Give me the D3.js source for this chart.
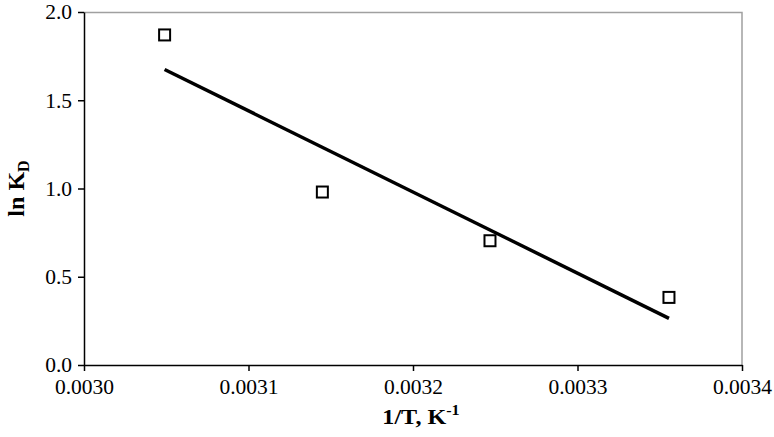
<!DOCTYPE html>
<html>
<head>
<meta charset="utf-8">
<script src="https://cdn.jsdelivr.net/npm/d3@7"></script>
<style>
  body { margin: 0; background: #fff; }
  text { font-family: "Liberation Serif", "Times New Roman", serif; }
</style>
</head>
<body>
<div class="chart"></div>
<script>
// ln KD vs 1/T
let invT = [0.003049, 0.0031449, 0.0032468, 0.0033556];
let lnKD = [1.870, 0.980, 0.704, 0.383];
let xTicks = [0.0030, 0.0031, 0.0032, 0.0033, 0.0034];
let yTicks = [0.0, 0.5, 1.0, 1.5, 2.0];

let svgWidth = 774;
let svgHeight = 437;

let margin = { top: 12, right: 32, bottom: 72, left: 84 };
let width = svgWidth - margin.left - margin.right;
let height = svgHeight - margin.top - margin.bottom;

let svg = d3.select(".chart")
  .append("svg")
  .attr("width", svgWidth)
  .attr("height", svgHeight);

let chartGroup = svg.append("g")
  .attr("transform", `translate(${margin.left}, ${margin.top})`);

let xScale = d3.scaleLinear().domain([0.0030, 0.0034]).range([0, width]);
let yScale = d3.scaleLinear().domain([0, 2]).range([height, 0]);

// gray frame on top and right
chartGroup.append("path")
  .attr("d", `M0,0.5H${width}V${height}`)
  .attr("fill", "none")
  .attr("stroke", "#a0a0a0")
  .attr("stroke-width", 1.5);

let bottomAxis = d3.axisBottom(xScale).tickValues(xTicks)
  .tickFormat(d3.format(".4f")).tickSizeInner(6).tickSizeOuter(0).tickPadding(5);
let leftAxis = d3.axisLeft(yScale).tickValues(yTicks)
  .tickFormat(d3.format(".1f")).tickSizeInner(6).tickSizeOuter(0).tickPadding(6);

let gx = chartGroup.append("g").attr("transform", `translate(0, ${height})`).call(bottomAxis);
let gy = chartGroup.append("g").call(leftAxis);

[gx, gy].forEach(g => {
  g.select(".domain").attr("stroke", "#000").attr("stroke-width", 1.5);
  g.selectAll(".tick line").attr("stroke", "#000").attr("stroke-width", 1.5);
  g.selectAll(".tick text")
    .attr("fill", "#000")
    .style("font-family", "'Liberation Serif', serif")
    .style("font-size", "21.5px");
});
gx.selectAll(".tick text").attr("dy", "0.85em");

// linear trend line (least squares)
let mx = d3.mean(invT), my = d3.mean(lnKD);
let sxy = d3.sum(invT, (x, i) => (x - mx) * (lnKD[i] - my));
let sxx = d3.sum(invT, x => (x - mx) * (x - mx));
let slope = sxy / sxx;
let icpt = my - slope * mx;
let xExt = d3.extent(invT);

chartGroup.append("line")
  .attr("x1", xScale(xExt[0]))
  .attr("y1", yScale(icpt + slope * xExt[0]))
  .attr("x2", xScale(xExt[1]))
  .attr("y2", yScale(icpt + slope * xExt[1]))
  .attr("stroke", "#000")
  .attr("stroke-width", 3.5);

// square markers
chartGroup.selectAll("rect.pt")
  .data(invT)
  .enter()
  .append("rect")
  .attr("class", "pt")
  .attr("x", (d) => xScale(d) - 5.5)
  .attr("y", (d, i) => yScale(lnKD[i]) - 5.5)
  .attr("width", 11)
  .attr("height", 11)
  .attr("fill", "#fff")
  .attr("stroke", "#000")
  .attr("stroke-width", 2);

// axis labels
let yLab = svg.append("text")
  .attr("transform", `translate(24, ${margin.top + height / 2}) rotate(-90)`)
  .attr("text-anchor", "middle")
  .style("font-size", "24px")
  .style("font-weight", "bold");
yLab.append("tspan").text("ln K");
yLab.append("tspan").attr("dy", 5).style("font-size", "16px").text("D");

let xLab = svg.append("text")
  .attr("transform", `translate(${margin.left + width / 2 + 8}, 424) scale(1.15, 1)`)
  .attr("text-anchor", "middle")
  .style("font-size", "21px")
  .style("font-weight", "bold");
xLab.append("tspan").text("1/T, K");
xLab.append("tspan").attr("dy", -9).style("font-size", "14px").text("-1");
</script>
</body>
</html>
